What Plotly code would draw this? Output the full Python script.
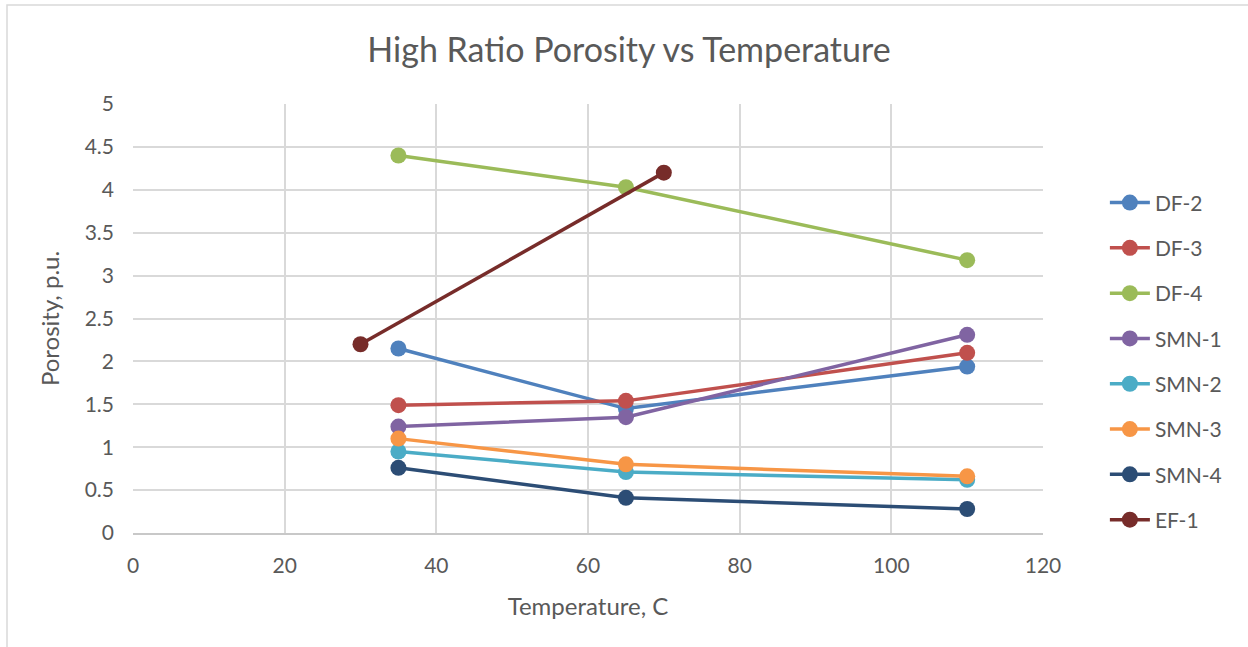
import plotly.graph_objects as go

series_names = ["DF-2", "DF-3", "DF-4", "SMN-1", "SMN-2", "SMN-3", "SMN-4", "EF-1"]
temps_std = [35, 65, 110]
temps_ef = [30, 70]
df2 = [2.15, 1.45, 1.94]
df3 = [1.49, 1.54, 2.10]
df4 = [4.40, 4.03, 3.18]
smn1 = [1.24, 1.35, 2.31]
smn2 = [0.95, 0.71, 0.62]
smn3 = [1.10, 0.80, 0.66]
smn4 = [0.76, 0.41, 0.28]
ef1 = [2.20, 4.20]

colors = ["#4F81BD", "#C0504D", "#9BBB59", "#8064A2", "#4BACC6", "#F79646", "#2C4D75", "#772C2A"]

xs = [temps_std] * 7 + [temps_ef]
ys = [df2, df3, df4, smn1, smn2, smn3, smn4, ef1]

fig = go.Figure()
for name, x, y, c in zip(series_names, xs, ys, colors):
    fig.add_trace(go.Scatter(
        x=x, y=y, name=name, mode="lines+markers", legendgroup=name,
        line=dict(color=c, width=3.5),
        marker=dict(color=c, size=16),
    ))

font_family = "Lato, 'Open Sans', sans-serif"
fig.update_layout(
    width=1248, height=647,
    margin=dict(l=133, r=205, t=104, b=114),
    paper_bgcolor="white", plot_bgcolor="white",
    font=dict(family=font_family, color="#595959", size=20),
    title=dict(text="High Ratio Porosity vs Temperature", x=629 / 1248, xanchor="center",
               y=1 - 50 / 647, yanchor="middle", font=dict(size=34, color="#595959")),
    xaxis=dict(range=[0, 120], dtick=20, showgrid=True, gridcolor="#D9D9D9", gridwidth=1.5,
               zeroline=False, showline=True, linecolor="#C8C8C8", linewidth=1.5,
               ticks="", tickfont=dict(size=21), ticklabelstandoff=13,
               title=dict(text="Temperature, C", font=dict(size=24), standoff=22)),
    yaxis=dict(range=[0, 5], dtick=0.5, showgrid=True, gridcolor="#D9D9D9", gridwidth=1.5,
               zeroline=False, showline=False, ticks="", tickfont=dict(size=21), ticklabelstandoff=18,
               title=dict(text="Porosity, p.u.", font=dict(size=24), standoff=18)),
    legend=dict(x=1.068, xanchor="left", y=0.4, yanchor="middle", tracegroupgap=15,
                font=dict(size=21), itemwidth=40, bgcolor="rgba(0,0,0,0)"),
    shapes=[dict(type="rect", xref="paper", yref="paper",
                 x0=(7 - 133) / 910, x1=(1260 - 133) / 910,
                 y0=(533 - 660) / 429, y1=(533 - 5) / 429,
                 line=dict(color="#D9D9D9", width=1.5), layer="below")],
)

fig.write_html("out.html")
